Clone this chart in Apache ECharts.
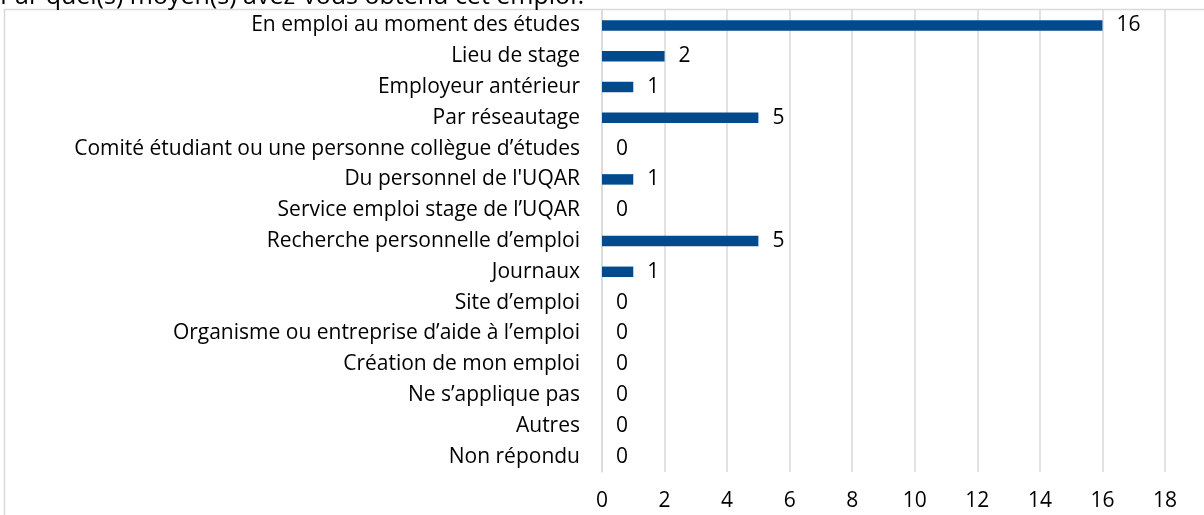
<!DOCTYPE html>
<html>
<head>
<meta charset="utf-8">
<script src="https://cdn.jsdelivr.net/npm/echarts@6/dist/echarts.min.js"></script>
<style>
  html, body { margin: 0; padding: 0; background: #fff; }
  #chartBar { width: 1204px; height: 515px; }
</style>
</head>
<body>
<div id="chartBar"></div>
<script>
// categories, top to bottom
const categories = [
  'En emploi au moment des études',
  'Lieu de stage',
  'Employeur antérieur',
  'Par réseautage',
  'Comité étudiant ou une personne collègue d’études',
  "Du personnel de l'UQAR",
  'Service emploi stage de l’UQAR',
  'Recherche personnelle d’emploi',
  'Journaux',
  'Site d’emploi',
  'Organisme ou entreprise d’aide à l’emploi',
  'Création de mon emploi',
  'Ne s’applique pas',
  'Autres',
  'Non répondu'
]
const counts = [16, 2, 1, 5, 0, 1, 0, 5, 1, 0, 0, 0, 0, 0, 0]
const titleText = 'Par quel(s) moyen(s) avez-vous obtenu cet emploi?'

const font = '"Open Sans", sans-serif'
const chartBar = echarts.init(document.getElementById('chartBar'))
chartBar.setOption({
  animation: false,
  textStyle: { fontFamily: font },
  graphic: [
    {
      type: 'rect',
      shape: { x: 4.5, y: 9.5, width: 1300, height: 600 },
      style: { fill: 'none', stroke: '#d9d9d9', lineWidth: 1.5 },
      silent: true
    },
    {
      type: 'text',
      left: 0,
      top: -16,
      style: { text: titleText, font: '25px ' + font, fill: '#000' },
      silent: true
    }
  ],
  grid: {
    left: 602,
    right: 39,
    top: 10,
    bottom: 43
  },
  xAxis: {
    type: 'value',
    min: 0,
    max: 18,
    interval: 2,
    axisLine: { show: false },
    axisTick: { show: false },
    splitLine: { lineStyle: { color: '#d9d9d9', width: 1.5 } },
    axisLabel: { color: '#000', fontSize: 21, margin: 19, fontFamily: font }
  },
  yAxis: {
    type: 'category',
    inverse: true,
    data: categories,
    axisLine: { show: true, lineStyle: { color: '#d9d9d9', width: 1.5 } },
    axisTick: { show: false },
    axisLabel: { color: '#000', fontSize: 21, margin: 22, fontFamily: font }
  },
  series: [
    {
      type: 'bar',
      data: counts,
      barWidth: '34%',
      itemStyle: { color: '#034a8c' },
      label: {
        show: true,
        position: 'right',
        distance: 14,
        color: '#000',
        fontSize: 21,
        fontFamily: font
      }
    }
  ]
})
</script>
</body>
</html>
